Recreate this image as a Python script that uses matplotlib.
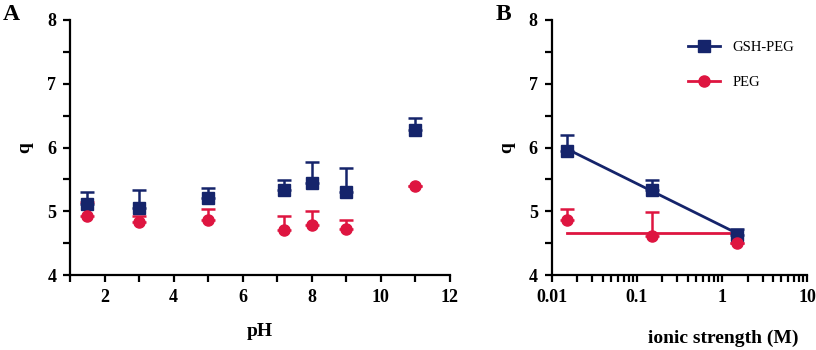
import numpy as np
import matplotlib.pyplot as plt

# panel A: q vs pH
ph = [1.5, 3, 5, 7.2, 8, 9, 11]
gsh_q = [5.11, 5.05, 5.21, 5.33, 5.44, 5.30, 6.27]
gsh_err = [0.19, 0.29, 0.16, 0.16, 0.33, 0.38, 0.20]
peg_q = [4.92, 4.83, 4.86, 4.71, 4.78, 4.73, 5.40]
peg_err = [0.23, 0.09, 0.17, 0.21, 0.23, 0.13, 0.0]

# panel B: q vs ionic strength
ionic = [0.015, 0.15, 1.5]
gsh_q2 = [5.95, 5.33, 4.63]
gsh_err2 = [0.24, 0.16, 0.09]
peg_q2 = [4.86, 4.61, 4.50]
peg_err2 = [0.17, 0.38, 0.0]
fit_x = [0.015, 1.7]
gsh_fit = [5.98, 4.62]
peg_fit = [4.66, 4.66]

navy = '#15246b'
red = '#de1540'

plt.rcParams['font.family'] = ['Liberation Serif', 'DejaVu Serif']
plt.rcParams['font.weight'] = 'bold'

fig = plt.figure(figsize=(8.16, 3.5), dpi=100)
axA = fig.add_axes([0.086, 0.214, 0.465, 0.729])
axB = fig.add_axes([0.676, 0.214, 0.313, 0.729])


def up_err(ax, x, y, e, color, marker, ms):
    ax.errorbar(x, y, yerr=[np.zeros(len(e)), e], fmt='none', ecolor=color,
                elinewidth=1.8, capsize=5, capthick=1.8, zorder=2)
    ax.plot(x, y, linestyle='none', marker=marker, color=color, markersize=ms, zorder=3)


up_err(axA, ph, gsh_q, gsh_err, navy, 's', 8)
up_err(axA, ph, peg_q, peg_err, red, 'o', 8)
axA.set_xlim(1, 12)
axA.set_xticks([2, 4, 6, 8, 10, 12])
axA.set_xticks([1, 3, 5, 7, 9, 11], minor=True)
axA.set_xlabel('pH', fontsize=14, fontweight='bold', labelpad=12)

axB.plot(fit_x, gsh_fit, color=navy, lw=2, zorder=1)
axB.plot(fit_x, peg_fit, color=red, lw=2, zorder=1)
up_err(axB, ionic, gsh_q2, gsh_err2, navy, 's', 8)
up_err(axB, ionic, peg_q2, peg_err2, red, 'o', 8)
axB.set_xscale('log')
axB.set_xlim(0.01, 10)
axB.set_xticks([0.01, 0.1, 1, 10])
axB.set_xticklabels(['0.01', '0.1', '1', '10'])
axB.set_xlabel('ionic strength (M)', fontsize=14, fontweight='bold')
axB.xaxis.set_label_coords(0.965, -0.215)
axB.xaxis.label.set_horizontalalignment('right')

# legend
h1, = axB.plot([], [], color=navy, marker='s', lw=2, markersize=8)
h2, = axB.plot([], [], color=red, marker='o', lw=2, markersize=8)
leg = axB.legend([h1, h2], ['GSH-PEG', 'PEG'], loc='upper right', frameon=False,
                 prop={'family': 'Liberation Serif', 'weight': 'normal', 'size': 10.5},
                 labelspacing=1.5, handlelength=2.2, bbox_to_anchor=(1.0, 0.97))

for ax in (axA, axB):
    ax.set_ylim(4, 8)
    ax.set_yticks([4, 5, 6, 7, 8])
    ax.set_yticks([4.5, 5.5, 6.5, 7.5], minor=True)
    ax.set_ylabel('q', fontsize=14, fontweight='bold', labelpad=10)
    for s in ('top', 'right'):
        ax.spines[s].set_visible(False)
    for s in ('left', 'bottom'):
        ax.spines[s].set_linewidth(1.6)
    ax.tick_params(which='major', direction='out', length=5, width=1.6, labelsize=13, pad=5)
    ax.tick_params(which='minor', direction='out', length=5, width=1.6)
    for lab in ax.get_xticklabels() + ax.get_yticklabels():
        lab.set_fontweight('bold')

fig.text(0.003, 0.99, 'A', fontsize=17, fontweight='bold', va='top', ha='left')
fig.text(0.607, 0.99, 'B', fontsize=17, fontweight='bold', va='top', ha='left')

fig.savefig('out.png', dpi=100)
